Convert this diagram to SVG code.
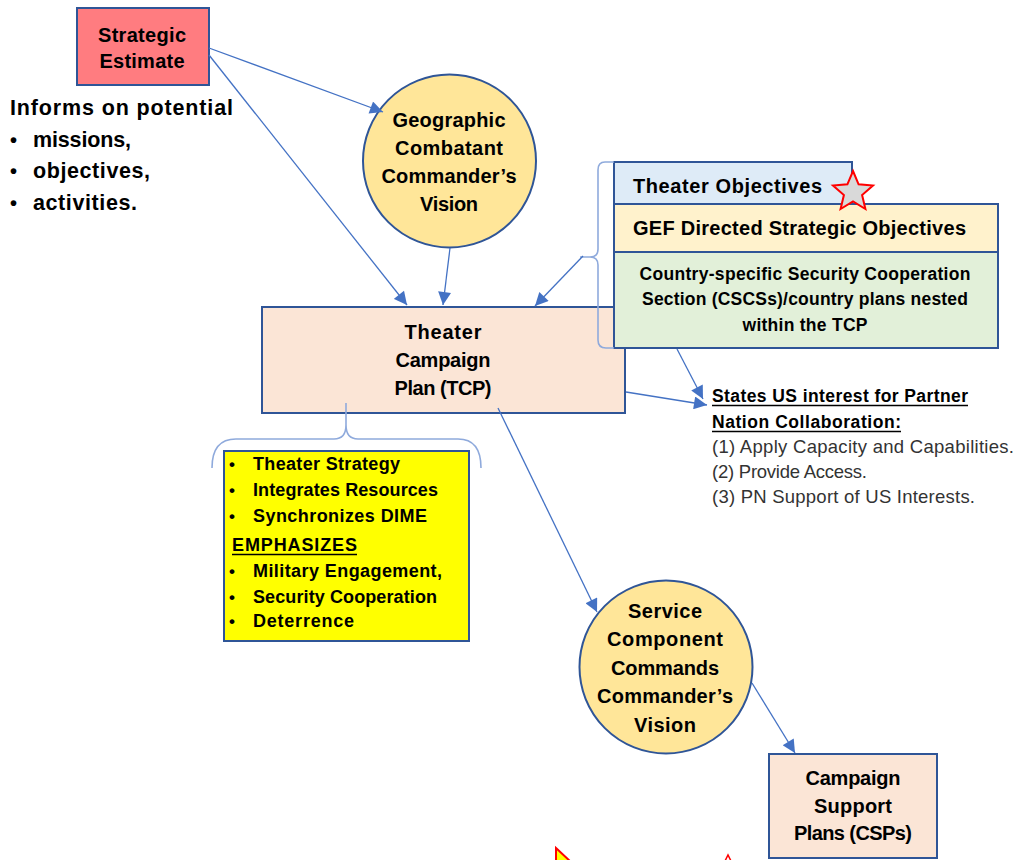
<svg xmlns="http://www.w3.org/2000/svg" width="1019" height="860" viewBox="0 0 1019 860">
<defs>
<style>
.b{font-family:"Liberation Sans",Arial,sans-serif;font-weight:bold;fill:#000}
.r{font-family:"Liberation Sans",Arial,sans-serif;font-weight:normal;fill:#333}
.c{text-anchor:middle}
.box{stroke:#2F5597;stroke-width:2}
.circ{fill:#FFE699;stroke:#2F5597;stroke-width:2}
.brace{fill:none;stroke:#8FAADC;stroke-width:1.6}
.conn{stroke:#4472C4;stroke-width:1.3;fill:none;marker-end:url(#ah)}
.ul{stroke:#000;stroke-width:1.3}
</style>
<marker id="ah" viewBox="0 0 10 10" refX="10" refY="5" markerWidth="15" markerHeight="13" markerUnits="userSpaceOnUse" orient="auto">
<path d="M0,0 L10,5 L0,10 z" fill="#4472C4"/>
</marker>
</defs>
<rect width="1019" height="860" fill="#fff"/>

<g id="strategic-estimate">
<rect class="box" x="77" y="8" width="132" height="77" fill="#FF7C80"/>
<text class="b c" x="142" y="42" font-size="20" textLength="88">Strategic</text>
<text class="b c" x="142" y="68" font-size="20" textLength="85">Estimate</text>
</g>

<g id="informs">
<text class="b" x="10" y="115" font-size="21.5" textLength="223">Informs on potential</text>
<text class="b" x="10" y="147" font-size="20">•</text>
<text class="b" x="33" y="147" font-size="21.5" textLength="98">missions,</text>
<text class="b" x="10" y="178" font-size="20">•</text>
<text class="b" x="33" y="178" font-size="21.5" textLength="117">objectives,</text>
<text class="b" x="10" y="210" font-size="20">•</text>
<text class="b" x="33" y="210" font-size="21.5" textLength="104">activities.</text>
</g>

<g id="gcc-vision">
<circle class="circ" cx="449.5" cy="161" r="86.5"/>
<text class="b c" x="449" y="127" font-size="20" textLength="113">Geographic</text>
<text class="b c" x="449" y="155" font-size="20" textLength="108">Combatant</text>
<text class="b c" x="449" y="183" font-size="20" textLength="135">Commander’s</text>
<text class="b c" x="449" y="211" font-size="20" textLength="58">Vision</text>
</g>

<g id="tcp">
<rect class="box" x="262" y="307" width="363" height="106" fill="#FBE5D6"/>
<text class="b c" x="443" y="339" font-size="20" textLength="77">Theater</text>
<text class="b c" x="443" y="367" font-size="20" textLength="95">Campaign</text>
<text class="b c" x="443" y="395" font-size="20" textLength="97">Plan (TCP)</text>
</g>

<g id="theater-objectives">
<rect class="box" x="614" y="162" width="238" height="42" fill="#DEEBF7"/>
<text class="b" x="633" y="193" font-size="20" textLength="189">Theater Objectives</text>
</g>

<g id="gef-objectives">
<rect class="box" x="614" y="204" width="384" height="48" fill="#FFF2CC"/>
<text class="b" x="633" y="235" font-size="20" textLength="333">GEF Directed Strategic Objectives</text>
</g>

<g id="cscs">
<rect class="box" x="614" y="252" width="384" height="96" fill="#E2F0D9"/>
<text class="b c" x="805" y="280" font-size="17.5" textLength="331">Country-specific Security Cooperation</text>
<text class="b c" x="805" y="305" font-size="17.5" textLength="326">Section (CSCSs)/country plans nested</text>
<text class="b c" x="805" y="331" font-size="17.5" textLength="125">within the TCP</text>
</g>

<g id="star">
<polygon points="853,171 858.6,184.3 873,185.5 862.1,195 865.4,209 853,201.5 840.6,209 843.9,195 833,185.5 847.4,184.3" fill="#D9D9D9" stroke="#FF0000" stroke-width="2"/>
</g>

<g id="objectives-brace">
<path class="brace" d="M614,162 L605,162 Q598,162 598,170 L598,249 Q598,257 590,257 L580,257 M590,257 Q598,257 598,265 L598,340 Q598,348 606,348 L614,348"/>
</g>

<g id="tcp-content">
<rect class="box" x="224" y="451" width="245" height="190" fill="#FFFF00"/>
<text class="b" x="229" y="470" font-size="17">•</text>
<text class="b" x="253" y="470" font-size="18" textLength="147">Theater Strategy</text>
<text class="b" x="229" y="496" font-size="17">•</text>
<text class="b" x="253" y="496" font-size="18" textLength="185">Integrates Resources</text>
<text class="b" x="229" y="522" font-size="17">•</text>
<text class="b" x="253" y="522" font-size="18" textLength="174">Synchronizes DIME</text>
<text class="b" x="232" y="551" font-size="18" textLength="125">EMPHASIZES</text>
<line class="ul" x1="232" y1="554.5" x2="357" y2="554.5"/>
<text class="b" x="229" y="577" font-size="17">•</text>
<text class="b" x="253" y="577" font-size="18" textLength="189">Military Engagement,</text>
<text class="b" x="229" y="603" font-size="17">•</text>
<text class="b" x="253" y="603" font-size="18" textLength="184">Security Cooperation</text>
<text class="b" x="229" y="627" font-size="17">•</text>
<text class="b" x="253" y="627" font-size="18" textLength="101">Deterrence</text>
</g>

<g id="tcp-brace">
<path class="brace" d="M212,468 Q212,439 236,439 L334,439 Q346,439 346,425 L346,403 M346,425 Q346,439 358,439 L458,439 Q481,439 481,468"/>
</g>

<g id="pn-interest">
<text class="b" x="712" y="402" font-size="17.5" textLength="256">States US interest for Partner</text>
<line class="ul" x1="712" y1="405.5" x2="968" y2="405.5"/>
<text class="b" x="712" y="428" font-size="17.5" textLength="189">Nation Collaboration:</text>
<line class="ul" x1="712" y1="431.5" x2="901" y2="431.5"/>
<text class="r" x="712" y="453" font-size="18.5" textLength="302">(1) Apply Capacity and Capabilities.</text>
<text class="r" x="712" y="478" font-size="18.5" textLength="155">(2) Provide Access.</text>
<text class="r" x="712" y="503" font-size="18.5" textLength="263">(3) PN Support of US Interests.</text>
</g>

<g id="scc-vision">
<circle class="circ" cx="666" cy="667" r="86.5"/>
<text class="b c" x="665" y="618" font-size="20" textLength="74">Service</text>
<text class="b c" x="665" y="646" font-size="20" textLength="116">Component</text>
<text class="b c" x="665" y="675" font-size="20" textLength="108">Commands</text>
<text class="b c" x="665" y="703" font-size="20" textLength="136">Commander’s</text>
<text class="b c" x="665" y="732" font-size="20" textLength="62">Vision</text>
</g>

<g id="csp">
<rect class="box" x="769" y="754" width="168" height="104" fill="#FBE5D6"/>
<text class="b c" x="853" y="785" font-size="20" textLength="95">Campaign</text>
<text class="b c" x="853" y="813" font-size="20" textLength="78">Support</text>
<text class="b c" x="853" y="840" font-size="20" textLength="118">Plans (CSPs)</text>
</g>

<g id="connectors">
<line class="conn" x1="209" y1="48" x2="383" y2="112"/>
<line class="conn" x1="209" y1="55" x2="407" y2="305"/>
<line class="conn" x1="450" y1="248" x2="443" y2="305"/>
<line class="conn" x1="583" y1="256" x2="535" y2="306"/>
<line class="conn" x1="498" y1="408" x2="597" y2="612"/>
<line class="conn" x1="752" y1="683" x2="795" y2="753"/>
<line class="conn" x1="677" y1="349" x2="703" y2="399"/>
<line class="conn" x1="626" y1="392" x2="707" y2="405"/>
</g>

<g id="bottom-shapes">
<polygon points="556,848 572,863 556,863" fill="#FFFF00" stroke="#FF0000" stroke-width="2"/>
<polygon points="724,863 728,855 732,863" fill="#FFFFFF" stroke="#FF0000" stroke-width="1.5"/>
</g>
</svg>
